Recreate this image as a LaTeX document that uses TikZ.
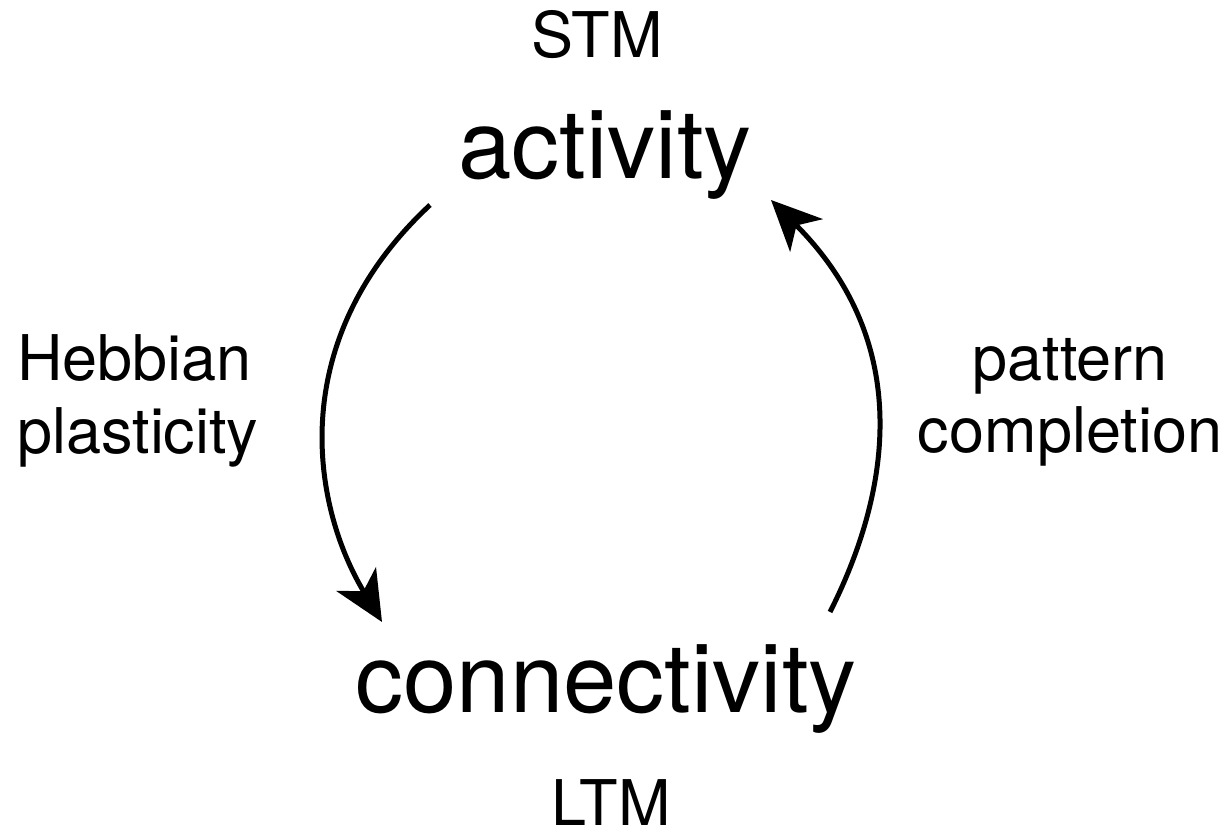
\documentclass[tikz,border=0pt]{standalone}
\usepackage{fontspec}
\setmainfont{TeX Gyre Heros}
\usetikzlibrary{arrows.meta}
\tikzset{
  big/.style={font=\fontsize{96}{100}\selectfont, inner sep=0pt, anchor=base},
  small/.style={font=\fontsize{63}{70}\selectfont, inner sep=0pt, anchor=base},
  cyc/.style={line width=5pt, -{Stealth[length=50pt, width=46pt, inset=14pt]}}
}
\begin{document}
\begin{tikzpicture}[x=1pt, y=1pt]
\useasboundingbox (0,0) rectangle (1230,831);
\node[small] (stm) at (597,773) {STM};
\node[big] (act) at (605,652) {activity};
\node[big] (con) at (606,119) {connectivity};
\node[small] (ltm) at (611,6) {LTM};
\node[small, anchor=base west] (heb) at (17,451) {Hebbian};
\node[small, anchor=base west] (pla) at (17,378) {plasticity};
\node[small] (pat) at (1070,451) {pattern};
\node[small] (com) at (1070,379) {completion};
\coordinate (ls) at (430,626);
\coordinate (le) at (382,209);
\coordinate (rs) at (830,219);
\coordinate (re) at (771,631);
\draw[cyc] (ls) .. controls (285,491) and (311,327) .. (le);
\draw[cyc] (rs) .. controls (886,330) and (919,483) .. (re);
\end{tikzpicture}
\end{document}
